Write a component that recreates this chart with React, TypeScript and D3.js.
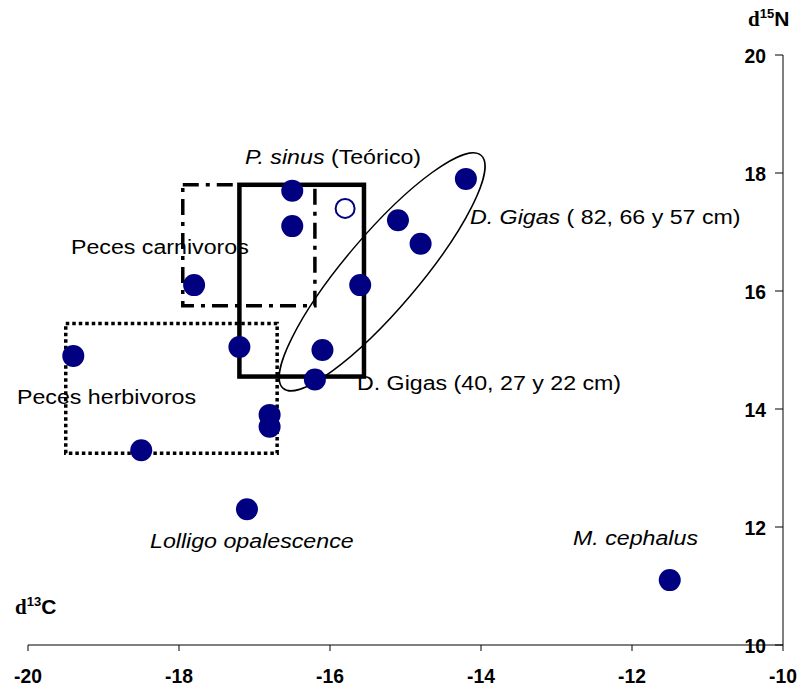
import * as d3 from 'd3';
import React from 'react';

// isotope values
const carbon = [-14.2, -15.1, -14.8, -15.6, -16.5, -16.5, -16.1, -16.2, -17.2, -17.8, -19.4, -16.8, -16.8, -18.5, -17.1, -11.5];
const nitrogen = [17.9, 17.2, 16.8, 16.1, 17.7, 17.1, 15.0, 14.5, 15.05, 16.1, 14.9, 13.9, 13.7, 13.3, 12.3, 11.1];
const openCarbon = [-15.8];
const openNitrogen = [17.4];

const xTicks = [-20, -18, -16, -14, -12, -10];
const yTicks = [10, 12, 14, 16, 18, 20];

// group boxes: [c min, c max, n min, n max]
const sinusBox = [-17.2, -15.55, 14.55, 17.8];
const carnivBox = [-17.95, -16.2, 15.75, 17.8];
const herbivBox = [-19.5, -16.7, 13.25, 15.45];
// ellipse around the large D. gigas: ends of the long axis
const gigasEnds = [[-16.62, 14.35], [-14.0, 18.3]];

const W = 801, H = 690;

export default function App() {
  const x = d3.scaleLinear().domain([-20, -10]).range([28, 783]);
  const y = d3.scaleLinear().domain([10, 20]).range([645, 55]);
  const font = "'Liberation Sans', Arial, sans-serif";

  const box = (b, props) => (
    <rect x={x(b[0])} y={y(b[3])} width={x(b[1]) - x(b[0])} height={y(b[2]) - y(b[3])}
      fill="none" stroke="#000" {...props} />
  );

  const ex0 = x(gigasEnds[0][0]), ey0 = y(gigasEnds[0][1]);
  const ex1 = x(gigasEnds[1][0]), ey1 = y(gigasEnds[1][1]);
  const ecx = (ex0 + ex1) / 2, ecy = (ey0 + ey1) / 2;
  const erx = Math.hypot(ex1 - ex0, ey1 - ey0) / 2;
  const eang = Math.atan2(ey1 - ey0, ex1 - ex0) * 180 / Math.PI;

  // annotation text is a bit stretched sideways in the original
  const Note = ({ px, py, italic, children }) => (
    <text transform={`translate(${px},${py}) scale(1.16,1)`} fontFamily={font} fontSize={20}
      fill="#000" fontStyle={italic ? 'italic' : 'normal'}>{children}</text>
  );

  return (
    <svg width={W} height={H} style={{ position: 'absolute', left: 0, top: 0, background: '#fff' }}>
      {/* x axis */}
      <line x1={x(-20)} x2={x(-10)} y1={y(10)} y2={y(10)} stroke="#000" strokeWidth={1} />
      {xTicks.map(t => (
        <g key={t}>
          <line x1={x(t)} x2={x(t)} y1={y(10)} y2={y(10) + 6} stroke="#000" />
          <text transform={`translate(${x(t)},683) scale(0.92,1)`} textAnchor="middle"
            fontFamily={font} fontWeight="bold" fontSize={21}>{t}</text>
        </g>
      ))}
      {/* y axis on the right */}
      <line x1={x(-10)} x2={x(-10)} y1={y(20)} y2={y(10)} stroke="#000" strokeWidth={1} />
      {yTicks.map(t => (
        <g key={t}>
          <line x1={x(-10) - 8} x2={x(-10)} y1={y(t)} y2={y(t)} stroke="#000" />
          <text transform={`translate(${x(-10) - 17},${y(t) + 7.5}) scale(0.92,1)`} textAnchor="end"
            fontFamily={font} fontWeight="bold" fontSize={21}>{t}</text>
        </g>
      ))}
      <text x={748} y={26} fontWeight="bold" fontSize={21}>
        <tspan fontFamily="'Liberation Serif', serif">d</tspan>
        <tspan fontFamily={font} fontSize={13} dy={-8}>15</tspan>
        <tspan fontFamily={font} dy={8}>N</tspan>
      </text>
      <text x={15} y={614} fontWeight="bold" fontSize={21}>
        <tspan fontFamily="'Liberation Serif', serif">d</tspan>
        <tspan fontFamily={font} fontSize={13} dy={-8}>13</tspan>
        <tspan fontFamily={font} dy={8}>C</tspan>
      </text>

      {/* group outlines */}
      {box(herbivBox, { strokeWidth: 3.5, strokeDasharray: '3.5,3' })}
      {box(carnivBox, { strokeWidth: 3.5, strokeDasharray: '16,7,4,7' })}
      {box(sinusBox, { strokeWidth: 4.5 })}
      <ellipse cx={ecx} cy={ecy} rx={erx} ry={37} transform={`rotate(${eang},${ecx},${ecy})`}
        fill="none" stroke="#000" strokeWidth={1.5} />

      {/* points */}
      {carbon.map((c, i) => (
        <circle key={i} cx={x(c)} cy={y(nitrogen[i])} r={11} fill="#000080" />
      ))}
      {openCarbon.map((c, i) => (
        <circle key={'o' + i} cx={x(c)} cy={y(openNitrogen[i])} r={9.5} fill="#fff" stroke="#000080" strokeWidth={2} />
      ))}

      {/* annotations */}
      <Note px={245} py={164}><tspan fontStyle="italic">P. sinus</tspan><tspan> (Teórico)</tspan></Note>
      <Note px={470} py={224}><tspan fontStyle="italic">D. Gigas</tspan><tspan> ( 82, 66 y 57 cm)</tspan></Note>
      <Note px={71} py={254}>Peces carnivoros</Note>
      <Note px={17} py={404}>Peces herbivoros</Note>
      <Note px={357} py={390}>D. Gigas (40, 27 y 22 cm)</Note>
      <Note px={150} py={548} italic>Lolligo opalescence</Note>
      <Note px={573} py={545} italic>M. cephalus</Note>
    </svg>
  );
}
